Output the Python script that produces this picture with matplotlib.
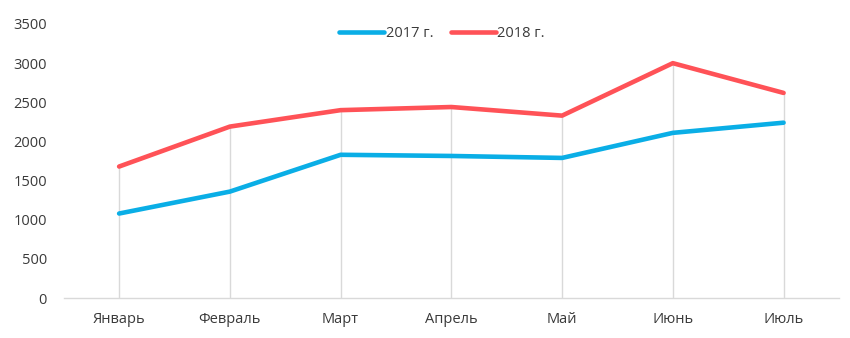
import matplotlib
matplotlib.use("Agg")
from matplotlib import pyplot as plt

months = ["Январь", "Февраль", "Март", "Апрель", "Май", "Июнь", "Июль"]
sales_2017 = [1080, 1360, 1830, 1815, 1790, 2110, 2240]
sales_2018 = [1680, 2190, 2400, 2440, 2330, 3000, 2620]

blue = "#0AAEE6"
red = "#FF5257"
grey = "#D9D9D9"

plt.rcParams["font.family"] = ["Open Sans", "DejaVu Sans"]

fig = plt.figure(figsize=(8.5, 3.38), dpi=100)
ax = fig.add_axes([0.075, 0.118, 0.912, 0.811])

x = list(range(len(months)))

# drop lines from the axis up to the higher series
for i in x:
    ax.plot([i, i], [0, max(sales_2017[i], sales_2018[i])], color=grey, lw=1, zorder=1)

ax.plot(x, sales_2017, color=blue, lw=3.3, label="2017 г.", solid_capstyle="round", zorder=3)
ax.plot(x, sales_2018, color=red, lw=3.3, label="2018 г.", solid_capstyle="round", zorder=3)

ax.set_xlim(-0.5, len(months) - 0.5)
ax.set_ylim(0, 3500)
ax.set_yticks(range(0, 3501, 500))
ax.set_xticks(x)
ax.set_xticklabels(months)
ax.tick_params(length=0, labelsize=10.5, colors="#3A3A3A")
ax.tick_params(axis="x", pad=10)
ax.tick_params(axis="y", pad=12)

for s in ["top", "right", "left"]:
    ax.spines[s].set_visible(False)
ax.spines["bottom"].set_color(grey)
ax.spines["bottom"].set_linewidth(1)

fig.legend(loc="center", bbox_to_anchor=(0.52, 0.9), ncol=2, frameon=False,
           fontsize=10.5, handlelength=3.1, handletextpad=0.1, columnspacing=1.2,
           labelcolor="#3A3A3A")

fig.savefig("out.png", dpi=100, facecolor="white")
